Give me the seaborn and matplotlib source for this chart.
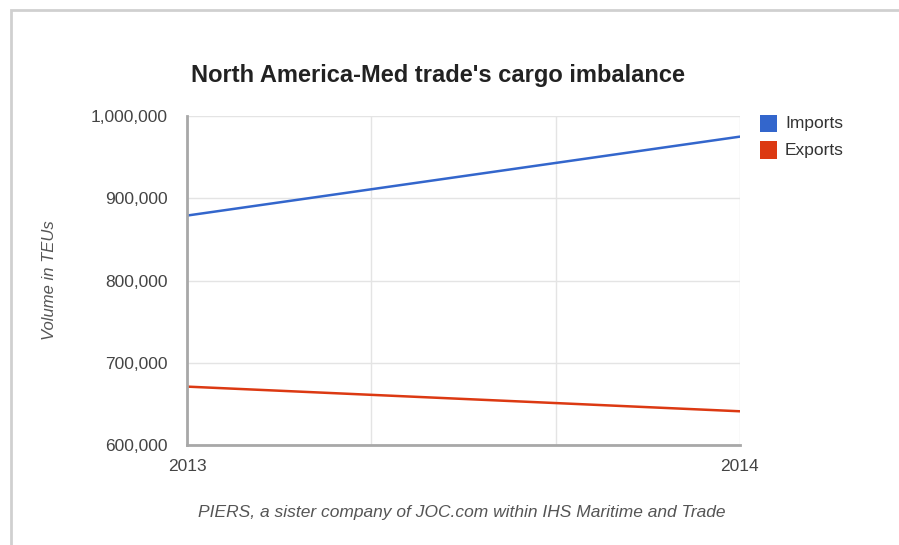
import matplotlib
matplotlib.use("Agg")
import matplotlib.pyplot as plt
from matplotlib.patches import Rectangle
from matplotlib.ticker import FuncFormatter, FixedLocator
import seaborn as sns
import pandas as pd

years = [2013, 2014]
imports = [879000, 975000]
exports = [671000, 641000]
series_names = ["Imports", "Exports"]
series_colors = ["#3366cc", "#dc3912"]
y_ticks = [600000, 700000, 800000, 900000, 1000000]

df = pd.DataFrame({
    "Year": years * 2,
    "Volume": imports + exports,
    "Series": [series_names[0]] * len(years) + [series_names[1]] * len(years),
})

sns.set_theme(style="white")
plt.rcParams["font.family"] = ["Liberation Sans", "DejaVu Sans"]

fig = plt.figure(figsize=(8.99, 5.45), dpi=100)
ax = fig.add_axes([0.208, 0.1835, 0.615, 0.6035])

# outer frame of the chart card
fig.patches.append(Rectangle((11 / 899, -0.05), 1.2, 1 - 10 / 545 + 0.05,
                             transform=fig.transFigure, fill=False,
                             edgecolor="#d0d0d0", linewidth=2.0, zorder=0))

sns.lineplot(data=df, x="Year", y="Volume", hue="Series",
             palette=dict(zip(series_names, series_colors)),
             linewidth=1.8, ax=ax, legend=False)

ax.set_xlim(years[0], years[-1])
ax.set_ylim(y_ticks[0], y_ticks[-1])
ax.set_yticks(y_ticks)
ax.yaxis.set_major_formatter(FuncFormatter(lambda v, p: f"{int(v):,}"))
ax.set_xticks(years)
ax.set_xticklabels([str(y) for y in years])
ax.xaxis.set_minor_locator(FixedLocator([years[0] + 1 / 3, years[0] + 2 / 3]))

ax.grid(True, which="both", axis="both", color="#e4e4e4", linewidth=1.0)
ax.set_axisbelow(True)
for side in ["top", "right"]:
    ax.spines[side].set_visible(False)
for side in ["left", "bottom"]:
    ax.spines[side].set_color("#a8a8a8")
    ax.spines[side].set_linewidth(2.0)
ax.tick_params(axis="both", which="both", length=0, labelsize=12.5,
               labelcolor="#444444")
ax.tick_params(axis="y", pad=14)
ax.tick_params(axis="x", pad=10)

ax.set_xlabel("")
ax.set_ylabel("Volume in TEUs", fontsize=12, style="italic", color="#555555",
              labelpad=24)

fig.text(0.487, 0.862, "North America-Med trade's cargo imbalance",
         ha="center", va="center", fontsize=17, fontweight="bold",
         color="#222222")
fig.text(0.514, 0.059, "PIERS, a sister company of JOC.com within IHS Maritime and Trade",
         ha="center", va="center", fontsize=12.5, style="italic", color="#555555")

# legend
for i, (name, col) in enumerate(zip(series_names, series_colors)):
    yy = 1 - (123.5 + 26.5 * i) / 545
    fig.patches.append(Rectangle((760 / 899, yy - 8.5 / 545), 17 / 899, 17 / 545,
                                 transform=fig.transFigure, facecolor=col,
                                 edgecolor="none"))
    fig.text(785 / 899, yy, name, ha="left", va="center", fontsize=12.5,
             color="#333333")

fig.savefig("out.png", dpi=100, facecolor="white")
